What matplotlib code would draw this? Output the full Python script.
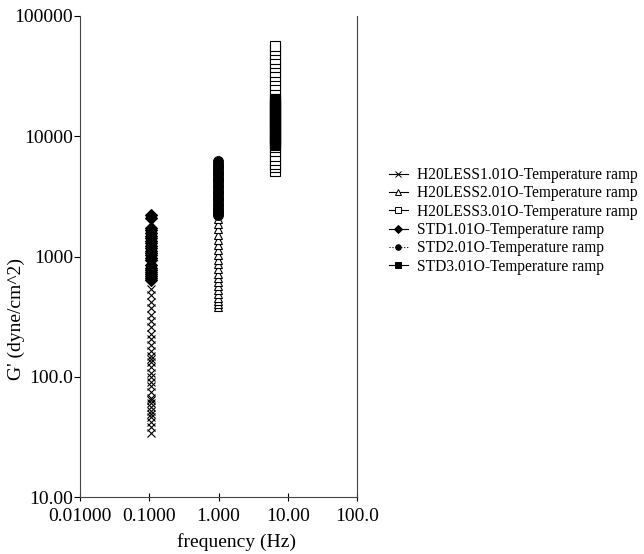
import numpy as np
import matplotlib
matplotlib.use("Agg")
import matplotlib.pyplot as plt
from matplotlib.legend_handler import HandlerLine2D

# frequencies of each temperature ramp (Hz)
freq_low = 0.106
freq_mid = 0.99
freq_high = 6.6

# G' values (dyne/cm^2)
h20less1 = [34, 38, 42, 46, 49, 52, 56, 61, 64, 67, 74, 84, 91, 99, 108,
            120, 133, 141, 150, 165, 184, 205, 228, 258, 290, 328, 370, 420, 478, 540]
h20less2 = [380, 400, 425, 455, 490, 525, 565, 610, 660, 720, 790, 860, 940,
            1030, 1130, 1250, 1380, 1520, 1680, 1850, 2050]
h20less3 = [5100, 5500, 5900, 6400, 6900, 7500, 8100, 8800, 9500, 10300,
            11200, 12200, 13300, 14500, 15800, 17200, 18800, 20500, 22500,
            24500, 26800, 29200, 31800, 34500, 37500, 40500, 44000, 48000,
            52000, 56500]
std1 = [640, 660, 685, 710, 740, 770, 800, 850, 940, 980, 1020, 1070, 1120,
        1170, 1230, 1290, 1350, 1420, 1490, 1570, 1650, 1720, 2100, 2200]
std2 = [2200, 2300, 2400, 2500, 2620, 2740, 2870, 3000, 3140, 3290, 3440,
        3600, 3770, 3950, 4130, 4320, 4520, 4730, 4950, 5180, 5420, 5670,
        5930, 6200]
std3 = [8500, 8900, 9300, 9700, 10100, 10600, 11100, 11600, 12100, 12600,
        13200, 13800, 14400, 15000, 15700, 16400, 17100, 17900, 18700, 19500,
        20300]

xticks = [0.01, 0.1, 1, 10, 100]
xtick_labels = ["0.01000", "0.1000", "1.000", "10.00", "100.0"]
yticks = [10, 100, 1000, 10000, 100000]
ytick_labels = ["10.00", "100.0", "1000", "10000", "100000"]

series = [
    ("H20LESS1.01O-Temperature ramp", freq_low, h20less1, "x", "none", "-", 6),
    ("H20LESS2.01O-Temperature ramp", freq_mid, h20less2, "^", "white", "-", 6),
    ("H20LESS3.01O-Temperature ramp", freq_high, h20less3, "s", "white", "-", 7),
    ("STD1.01O-Temperature ramp", freq_low, std1, "D", "black", "-", 6),
    ("STD2.01O-Temperature ramp", freq_mid, std2, "o", "black", ":", 7),
    ("STD3.01O-Temperature ramp", freq_high, std3, "s", "black", "-", 7),
]


class MarkerFirst(HandlerLine2D):
    # marker on the left, short line to its right
    def get_xdata(self, legend, xdescent, ydescent, width, height, fontsize):
        xdata = np.array([-xdescent, -xdescent + width])
        return xdata, np.array([-xdescent])


plt.rcParams["font.family"] = ["Liberation Serif", "DejaVu Serif"]

fig = plt.figure(figsize=(6.44, 5.54), dpi=100)
ax = fig.add_axes([80 / 644, 1 - 497 / 554, 277 / 644, 481 / 554])

handles = []
for label, f, vals, mk, fc, ls, ms in series:
    ax.plot([f] * len(vals), vals, linestyle="none", marker=mk, ms=ms,
            mfc=fc, mec="black", mew=0.8, color="black")
    h, = ax.plot([], [], linestyle=ls, lw=0.8, marker=mk, ms=4,
                 mfc=fc, mec="black", mew=0.7, color="black", label=label)
    handles.append(h)

ax.set_xscale("log")
ax.set_yscale("log")
ax.set_xlim(0.01, 100)
ax.set_ylim(10, 100000)
ax.set_xticks(xticks)
ax.set_xticklabels(xtick_labels)
ax.set_yticks(yticks)
ax.set_yticklabels(ytick_labels)
ax.minorticks_off()
ax.tick_params(axis="x", direction="inout", length=6, labelsize=14, pad=5)
ax.tick_params(axis="y", direction="out", length=4, labelsize=14, pad=1)
ax.tick_params(right=False, top=False)

for side in ("left", "bottom", "right"):
    ax.spines[side].set_color("#444444")
    ax.spines[side].set_linewidth(0.8)
ax.spines["top"].set_visible(False)

ax.set_xlabel("frequency (Hz)", fontsize=14)
ax.set_ylabel("G' (dyne/cm^2)", fontsize=14)
ax.xaxis.set_label_coords(0.565, -36 / 481)
ax.yaxis.set_label_coords(-55 / 277, 0.37)

fig.legend(handles=handles, loc="upper left",
           bbox_to_anchor=(389 / 644, 1 - 167 / 554),
           frameon=False, fontsize=11.2, handlelength=1.2, handletextpad=0.6,
           labelspacing=0.15, borderpad=0, borderaxespad=0,
           handler_map={h: MarkerFirst() for h in handles})

fig.savefig("out.png", dpi=100)
